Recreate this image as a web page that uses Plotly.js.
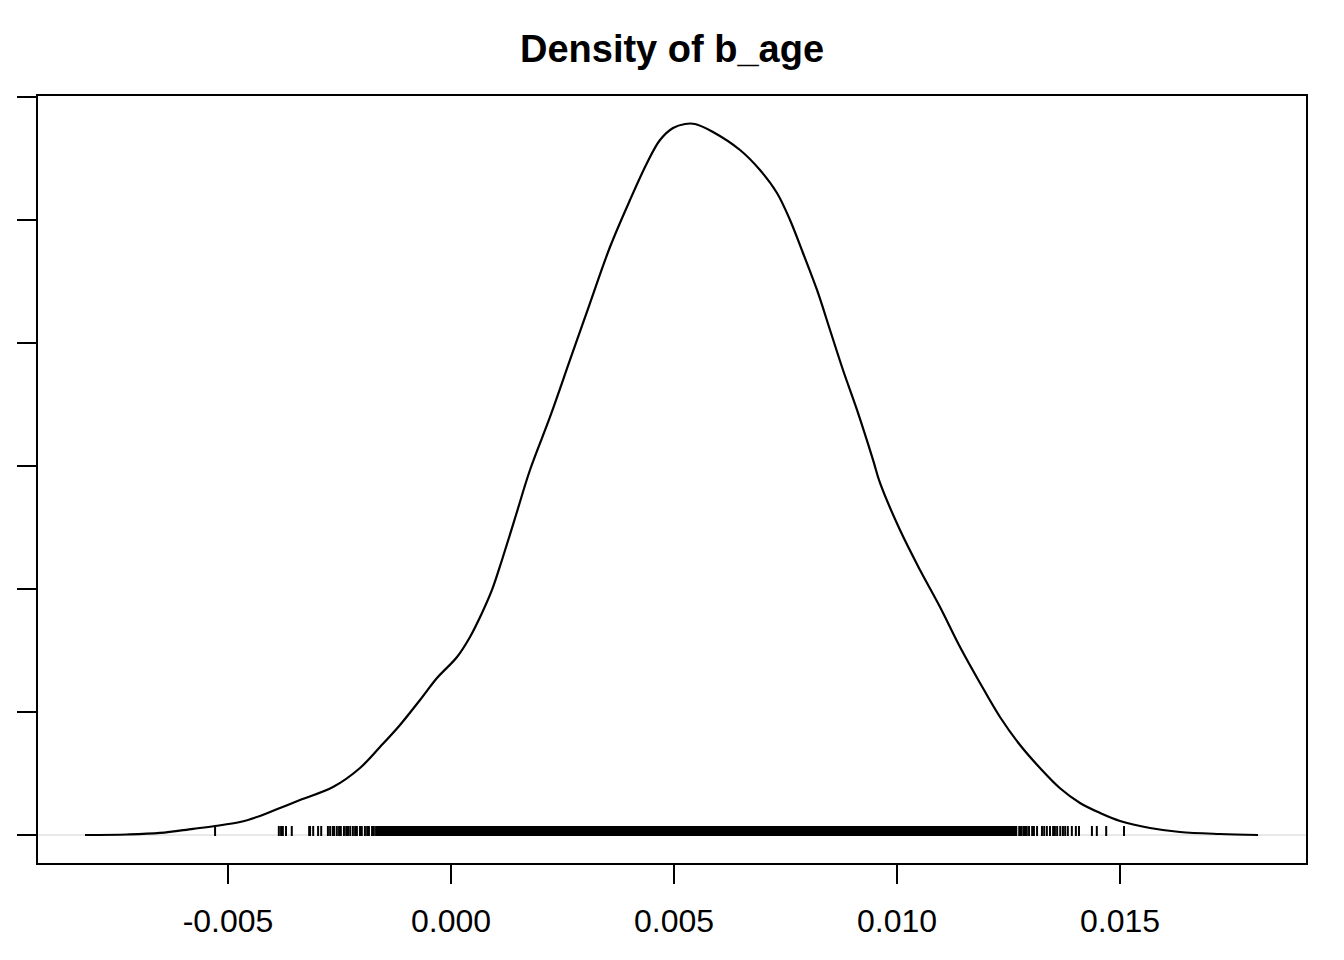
<!DOCTYPE html>
<html>
<head>
<meta charset="utf-8">
<script src="https://cdn.plot.ly/plotly-3.0.1.min.js"></script>
<style>html,body{margin:0;padding:0;background:#fff;}#chart{width:1344px;height:960px;}</style>
</head>
<body>
<div id="chart"></div>
<script>
// Density curve of b_age
const densX = [-0.008206,-0.007265,-0.006525,-0.005785,-0.005291,-0.004731,-0.004283,-0.003834,-0.003386,-0.002646,
  -0.002040,-0.001592,-0.001143,-0.000695,-0.000314,0.000135,0.000426,0.000695,0.000919,0.001143,0.001457,
  0.001771,0.002220,0.002668,0.003117,0.003565,0.004013,0.004395,0.004686,0.004978,0.005247,0.005471,
  0.005874,0.006480,0.006928,0.007309,0.007601,0.007892,0.008206,0.008498,0.008789,0.009103,0.009462,
  0.009619,0.010067,0.010516,0.010964,0.011413,0.011861,0.012309,0.012758,0.013206,0.013655,0.014103,
  0.014552,0.015000,0.015673,0.016345,0.017242,0.018094];
const densY = [0.0,0.08,0.33,1.00,1.46,2.11,3.10,4.39,5.69,7.80,
  10.90,14.31,17.89,21.95,25.53,28.94,32.20,36.10,39.84,44.72,52.03,
  59.35,67.97,77.24,86.50,95.61,103.25,109.27,113.01,114.96,115.61,115.61,
  114.31,111.38,108.13,104.39,100.00,94.63,88.62,82.11,75.61,69.11,61.00,
  57.24,49.59,43.09,37.07,30.57,24.72,19.19,14.63,10.89,7.60,5.20,
  3.58,2.28,1.14,0.49,0.16,0.0];

// Rug of posterior draws, in units of 1e-5: sparse tails
const rugSparseE5 = [-529,-386,-381,-377,-370,-357,-318,-316,-309,-298,-291,-276,-271,-265,-262,-256,-251,-247,-240,-235,
  -231,-226,-220,-215,-211,-204,-200,-193,-188,-184,-177,-173,-168,
  1274,1278,1283,1287,1291,1296,1303,1307,1314,1325,1330,1336,1343,1350,1354,1359,1366,1372,1377,1383,1392,1401,1408,
  1437,1448,1469,1509];
// Rug of posterior draws, in units of 1e-5: dense core (solid block in the picture)
const rugDenseE5 = [-164,-160,-155,-151,-146,-141,-137,-132,-128,-123,-118,-114,-109,-105,-100,-95,-91,-86,-82,-77,-72,-68,-63,-59,-54,-49,-45,-40,-36,-31,-26,-22,-17,-13,-8,-3,1,6,10,15,20,24,29,33,38,43,47,52,56,61,66,70,75,79,84,89,93,98,102,107,112,116,121,125,130,135,139,144,148,153,158,162,167,171,176,181,185,190,194,199,204,208,213,217,222,227,231,236,240,245,250,254,259,263,268,273,277,282,286,291,296,300,305,309,314,319,323,328,332,337,342,346,351,355,360,365,369,374,378,383,388,392,397,401,406,411,415,420,424,429,434,438,443,447,452,457,461,466,470,475,480,484,489,493,498,503,507,512,516,521,526,530,535,539,544,549,553,558,562,567,572,576,581,585,590,595,599,604,608,613,618,622,627,631,636,641,645,650,654,659,664,668,673,677,682,687,691,696,700,705,710,714,719,723,728,733,737,742,746,751,756,760,765,769,774,779,783,788,792,797,802,806,811,815,820,825,829,834,838,843,848,852,857,861,866,871,875,880,884,889,894,898,903,907,912,917,921,926,930,935,940,944,949,953,958,963,967,972,976,981,986,990,995,999,1004,1009,1013,1018,1022,1027,1032,1036,1041,1045,1050,1055,1059,1064,1068,1073,1078,1082,1087,1091,1096,1101,1105,1110,1114,1119,1124,1128,1133,1137,1142,1147,1151,1156,1160,1165,1170,1174,1179,1183,1188,1193,1197,1202,1206,1211,1216,1220,1225,1229,1234,1239,1243,1248,1252,1257,1262,1266];

const xTickVals = [-0.005, 0, 0.005, 0.010, 0.015];
const xTickText = ['-0.005', '0.000', '0.005', '0.010', '0.015'];
const yTickVals = [0, 20, 40, 60, 80, 100, 120];
const titleText = 'Density of b_age';

// rug segments: each draw is a short vertical segment from y0 to y1
const rugY0 = -0.16, rugY1 = 1.46;
function segs(list) {
  const sx = [], sy = [];
  list.forEach(v => { const x = v * 1e-5; sx.push(x, x, null); sy.push(rugY0, rugY1, null); });
  return {sx, sy};
}
const sparse = segs(rugSparseE5);
const dense = segs(rugDenseE5);

const traces = [
  {
    x: densX, y: densY, type: 'scatter', mode: 'lines',
    line: {color: '#000000', width: 2.2, shape: 'spline', smoothing: 1.0},
    hoverinfo: 'skip', showlegend: false
  },
  {
    x: sparse.sx, y: sparse.sy, type: 'scatter', mode: 'lines', connectgaps: false,
    line: {color: '#000000', width: 2},
    hoverinfo: 'skip', showlegend: false
  },
  {
    x: dense.sx, y: dense.sy, type: 'scatter', mode: 'lines', connectgaps: false,
    line: {color: '#000000', width: 3.2},
    hoverinfo: 'skip', showlegend: false
  }
];

const font = 'Liberation Sans, Arial, Helvetica, sans-serif';
const layout = {
  width: 1344, height: 960,
  margin: {l: 38, r: 38, t: 96, b: 97, pad: 0},
  paper_bgcolor: '#ffffff', plot_bgcolor: '#ffffff',
  font: {family: font, color: '#000000'},
  title: {text: '<b>' + titleText + '</b>', font: {family: font, size: 38, color: '#000000'},
          x: 0.5, xref: 'paper', xanchor: 'center', y: 1 - 49/960, yref: 'container', yanchor: 'middle'},
  showlegend: false,
  xaxis: {
    range: [-0.009260, 0.019170], autorange: false,
    tickmode: 'array', tickvals: xTickVals, ticktext: xTickText,
    ticks: 'outside', ticklen: 19, tickwidth: 2, tickcolor: '#000000',
    tickfont: {family: font, size: 32, color: '#000000'},
    ticklabelstandoff: 10,
    showline: true, linecolor: '#000000', linewidth: 2, mirror: true,
    showgrid: false, zeroline: false
  },
  yaxis: {
    range: [-4.553, 120.16], autorange: false,
    tickmode: 'array', tickvals: yTickVals, showticklabels: false,
    ticks: 'outside', ticklen: 19, tickwidth: 2, tickcolor: '#000000',
    showline: true, linecolor: '#000000', linewidth: 2, mirror: true,
    showgrid: false, zeroline: false
  },
  shapes: [
    {type: 'line', xref: 'paper', yref: 'y', x0: 0, x1: 1, y0: 0, y1: 0,
     line: {color: '#d3d3d3', width: 1}, layer: 'below'}
  ]
};

Plotly.newPlot('chart', traces, layout, {displayModeBar: false, staticPlot: true});
</script>
</body>
</html>
